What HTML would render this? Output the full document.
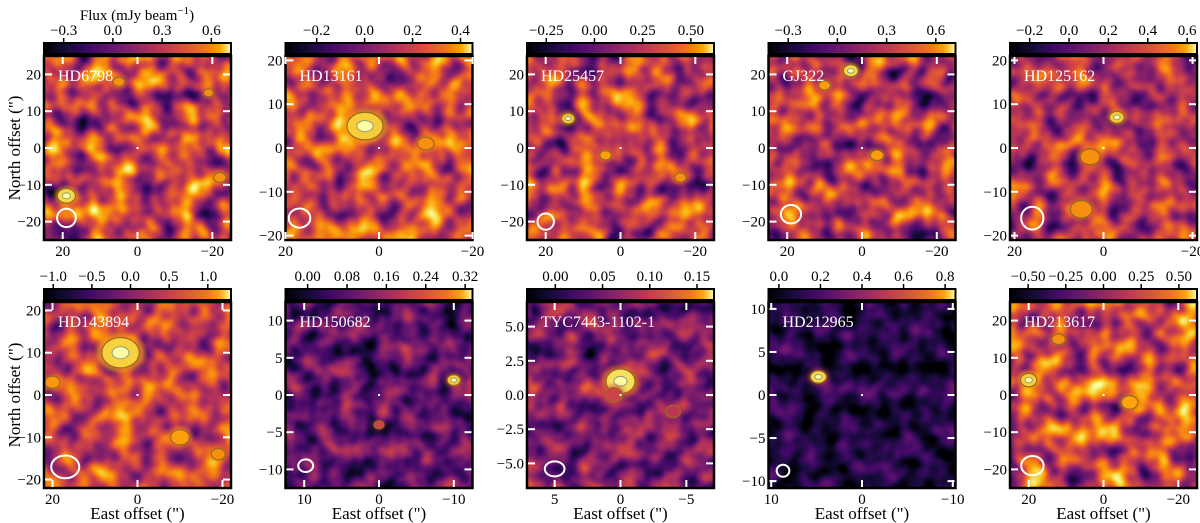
<!DOCTYPE html>
<html><head><meta charset="utf-8">
<style>
html,body{margin:0;padding:0;background:#fff;}
svg{display:block;font-family:"Liberation Serif","Times New Roman","DejaVu Serif",serif;}
text{font-family:"Liberation Serif","Times New Roman","DejaVu Serif",serif;}
</style></head>
<body>
<svg id="fig" width="1200" height="523" viewBox="0 0 1200 523" xmlns="http://www.w3.org/2000/svg">
<defs>
<linearGradient id="inferno" x1="0" x2="1" y1="0" y2="0">
<stop offset="0" stop-color="#000004"/><stop offset="0.125" stop-color="#160b39"/><stop offset="0.25" stop-color="#420a68"/><stop offset="0.375" stop-color="#6a176e"/><stop offset="0.5" stop-color="#932667"/><stop offset="0.625" stop-color="#bc3754"/><stop offset="0.75" stop-color="#dd513a"/><stop offset="0.875" stop-color="#f37819"/><stop offset="0.94" stop-color="#fca50a"/><stop offset="1" stop-color="#fcffa4"/>
</linearGradient>
<filter id="blur3" x="-50%" y="-50%" width="200%" height="200%"><feGaussianBlur stdDeviation="2.5"/></filter>
</defs>
</svg>
<script>
// ---- data arrays ----
const names = ["HD6798","HD13161","HD25457","GJ322","HD125162","HD143894","HD150682","TYC7443-1102-1","HD212965","HD213617"];
const xRange = [25,20,25,25,21,22,12.5,7.1,10.3,25];
const yRange = [25,21,25,25,21,22,12.5,6.8,10.8,25];
const xTicks = [[20,0,-20],[20,0,-20],[20,0,-20],[20,0,-20],[20,0,-20],[20,0,-20],[10,0,-10],[5,0,-5],[10,0,-10],[20,0,-20]];
const yTicks = [[-20,-10,0,10,20],[-20,-10,0,10,20],[-20,-10,0,10,20],[-20,-10,0,10,20],[-20,-10,0,10,20],[-20,-10,0,10,20],[-10,-5,0,5,10],[-5,-2.5,0,2.5,5],[-10,-5,0,5,10],[-20,-10,0,10,20]];
const yTickLabels = [["−20","−10","0","10","20"],["−20","−10","0","10","20"],["−20","−10","0","10","20"],["−20","−10","0","10","20"],["−20","−10","0","10","20"],["−20","−10","0","10","20"],["−10","−5","0","5","10"],["−5.0","−2.5","0.0","2.5","5.0"],["−10","−5","0","5","10"],["−20","−10","0","10","20"]];
const cbMin = [-0.42,-0.33,-0.35,-0.42,-0.30,-1.12,-0.045,-0.03,-0.05,-0.62];
const cbMax = [0.72,0.45,0.62,0.72,0.65,1.30,0.335,0.168,0.85,0.62];
const cbTicks = [[-0.3,0,0.3,0.6],[-0.2,0,0.2,0.4],[-0.25,0,0.25,0.5],[-0.3,0,0.3,0.6],[-0.2,0,0.2,0.4,0.6],[-1,-0.5,0,0.5,1],[0,0.08,0.16,0.24,0.32],[0,0.05,0.1,0.15],[0,0.2,0.4,0.6,0.8],[-0.5,-0.25,0,0.25,0.5]];
const cbLabels = [["−0.3","0.0","0.3","0.6"],["−0.2","0.0","0.2","0.4"],["−0.25","0.00","0.25","0.50"],["−0.3","0.0","0.3","0.6"],["−0.2","0.0","0.2","0.4","0.6"],["−1.0","−0.5","0.0","0.5","1.0"],["0.00","0.08","0.16","0.24","0.32"],["0.00","0.05","0.10","0.15"],["0.0","0.2","0.4","0.6","0.8"],["−0.50","−0.25","0.00","0.25","0.50"]];
// background level (fraction of colormap) per map
const bgLevel = [0.53,0.56,0.51,0.49,0.47,0.54,0.27,0.34,0.12,0.55];
const bgContrast = [1.4,1.2,1.3,1.3,1.2,1.1,0.9,0.9,0.6,1.3];
// bright sources: [east, north, size, peak level]
const srcE = [[19,5,-22,-19],[3,27,-10],[14,4,-16],[3,10,-4],[-3,3,5],[4,-10,20,-19],[-10,0],[0,0.5,-4],[4.8],[20,-7,12]];
const srcN = [[-13,18,-8,15],[5,5,1],[8,-2,-8],[21,17,-2],[7,-2,-14],[10,-10,3,-14],[2,-4],[1,0,-1.2],[2.1],[4,-2,15]];
const srcR = [[2.2,1.4,1.5,1.2],[3.5,2,1.6],[1.6,1.4,1.4],[1.8,1.4,1.6],[1.5,2,2.2],[4,2,1.6,1.5],[0.8,0.6],[1.0,0.6,0.5],[0.8],[2.0,2.0,1.6]];
const srcPeak = [[0.95,0.8,0.8,0.8],[0.93,0.82,0.8],[0.92,0.84,0.8],[0.95,0.83,0.83],[0.92,0.8,0.8],[0.94,0.84,0.82,0.8],[0.92,0.6],[0.97,0.6,0.55],[0.95],[0.93,0.85,0.8]];
// beam ellipse [east, north, semi-axis E, semi-axis N]
const beamE = [19,17,20,19,16,17,9.8,5,8.7,19];
const beamN = [-19,-16,-20,-18,-16,-17,-9.5,-5.4,-8.8,-19];
const beamA = [2.5,2.3,2.2,2.7,2.5,3.3,1.0,0.75,0.7,3.0];
const beamB = [2.5,2.2,2.2,2.5,2.6,2.7,0.85,0.55,0.7,2.6];

const infR=[0,0.086,0.259,0.416,0.576,0.737,0.867,0.953,0.988,0.965,0.988];
const infG=[0,0.043,0.039,0.09,0.149,0.216,0.318,0.471,0.647,0.843,1];
const infB=[0.016,0.224,0.408,0.431,0.404,0.329,0.227,0.098,0.039,0.275,0.643];
function infernoColor(t){t=Math.max(0,Math.min(1,t));const s=t*10,i=Math.min(9,Math.floor(s)),f=s-i;
 const c=a=>Math.round(255*(a[i]+(a[i+1]-a[i])*f));return `rgb(${c(infR)},${c(infG)},${c(infB)})`;}

const NS="http://www.w3.org/2000/svg";
const svg=document.getElementById('fig');
const defs=svg.querySelector('defs');
function mk(tag,attrs,parent){const e=document.createElementNS(NS,tag);for(const k in attrs)e.setAttribute(k,attrs[k]);(parent||svg).appendChild(e);return e;}
const FONT='Liberation Serif, Times New Roman, DejaVu Serif, serif';

const W=187;
const tl=mk('text',{x:137,y:20,'font-size':15,'text-anchor':'middle',fill:'#000','font-family':FONT});


tl.innerHTML='Flux (mJy beam<tspan dy="-6" font-size="11">−1</tspan><tspan dy="6">)</tspan>';

names.forEach((nm,i)=>{
 const row=Math.floor(i/5), col=i%5;
 const L=44+col*241.5, T=row?302:56, H=row?186:184;
 const cbT=row?289:43, cbH=11;
 const g=mk('g',{'font-family':FONT});
 
 
 const sx=e=>L+W/2-e/xRange[i]*W/2;
 const sy=n=>T+H/2-n/yRange[i]*H/2;
 const f=mk('filter',{id:'nz'+i,x:0,y:0,width:'100%',height:'100%','color-interpolation-filters':'sRGB'},defs);
 mk('feTurbulence',{type:'fractalNoise',baseFrequency:(i>=6&&i<=8?0.05:0.045),numOctaves:2,seed:i*7+3},f);
 mk('feGaussianBlur',{stdDeviation:1.5},f);
 const a=bgContrast[i], b=bgLevel[i]-a*0.5;
 mk('feColorMatrix',{type:'matrix',values:`${a} 0 0 0 ${b} ${a} 0 0 0 ${b} ${a} 0 0 0 ${b} 0 0 0 0 1`},f);
 const ct=mk('feComponentTransfer',{},f);
 mk('feFuncR',{type:'table',tableValues:infR.join(' ')},ct);
 mk('feFuncG',{type:'table',tableValues:infG.join(' ')},ct);
 mk('feFuncB',{type:'table',tableValues:infB.join(' ')},ct);
 const cp=mk('clipPath',{id:'cp'+i},defs);
 mk('rect',{x:L,y:T,width:W,height:H},cp);
 const img=mk('g',{'clip-path':`url(#cp${i})`},g);
 
 
 mk('rect',{x:L,y:T,width:W,height:H,fill:infernoColor(bgLevel[i]),filter:`url(#nz${i})`},img);
 srcE[i].forEach((e,k)=>{
  const cx=sx(e), cy=sy(srcN[i][k]);
  const rx=srcR[i][k]/xRange[i]*W/2*1.1, ry=srcR[i][k]/yRange[i]*H/2*0.9;
  const pk=srcPeak[i][k];
  const halo=mk('ellipse',{cx,cy,rx:rx*1.3,ry:ry*1.3,fill:infernoColor((pk+bgLevel[i])/2+0.05),opacity:0.7,filter:'url(#blur3)'},img);
  
  
  const core=mk('ellipse',{cx,cy,rx,ry,fill:infernoColor(pk-0.05),stroke:'#9a6a20','stroke-width':1.2},img);
  
  
  if(pk>0.9){const c2=mk('ellipse',{cx,cy,rx:rx*0.45,ry:ry*0.4,fill:infernoColor(1),stroke:'#8fa080','stroke-width':1},img);
   
   }
 });
 const bm=mk('ellipse',{cx:sx(beamE[i]),cy:sy(beamN[i]),rx:beamA[i]/xRange[i]*W/2,ry:beamB[i]/yRange[i]*H/2,fill:'none',stroke:'#fff','stroke-width':2},img);
 
 
 mk('rect',{x:sx(0)-1,y:sy(0)-1,width:2,height:2,fill:'#fff'},img);
 const lb=mk('text',{x:L+14,y:T+25,'font-size':16,fill:'#fff'},g);lb.textContent=nm;
 
 
 const fr=mk('rect',{x:L,y:T,width:W,height:H,fill:'none',stroke:'#000','stroke-width':2.5},g);
 
 
 xTicks[i].forEach(v=>{const x=sx(v);
  mk('line',{x1:x,x2:x,y1:T+H-1,y2:T+H-8,stroke:'#fff','stroke-width':2},g);
  mk('line',{x1:x,x2:x,y1:T+1,y2:T+8,stroke:'#fff','stroke-width':2},g);
  const t=mk('text',{x,y:T+H+16,'font-size':15,'text-anchor':'middle'},g);t.textContent=v<0?'−'+(-v):String(v);
  
  });
 yTicks[i].forEach((v,k)=>{const y=sy(v);
  mk('line',{x1:L+1,x2:L+8,y1:y,y2:y,stroke:'#fff','stroke-width':2},g);
  mk('line',{x1:L+W-1,x2:L+W-8,y1:y,y2:y,stroke:'#fff','stroke-width':2},g);
  const t=mk('text',{x:L-3,y:y+5,'font-size':15,'text-anchor':'end'},g);t.textContent=yTickLabels[i][k];
  
  });
 const cb=mk('rect',{x:L,y:cbT,width:W,height:cbH,fill:'url(#inferno)',stroke:'#000','stroke-width':2},g);
 
 
 const cx=v=>L+(v-cbMin[i])/(cbMax[i]-cbMin[i])*W;
 cbTicks[i].forEach((v,k)=>{const x=cx(v);
  mk('line',{x1:x,x2:x,y1:cbT,y2:cbT-5,stroke:'#000','stroke-width':1.5},g);
  const t=mk('text',{x,y:cbT-8,'font-size':15,'text-anchor':'middle'},g);t.textContent=cbLabels[i][k];
  
  });
 if(col===0){const t=mk('text',{x:0,y:0,'font-size':17,'text-anchor':'middle',transform:`translate(20,${T+H/2}) rotate(-90)`},g);t.textContent='North offset (")';
  
  }
 if(row===1){const t=mk('text',{x:L+W/2,y:519,'font-size':17,'text-anchor':'middle'},g);t.textContent='East offset (")';
  
  }
});
</script>
</body></html>
